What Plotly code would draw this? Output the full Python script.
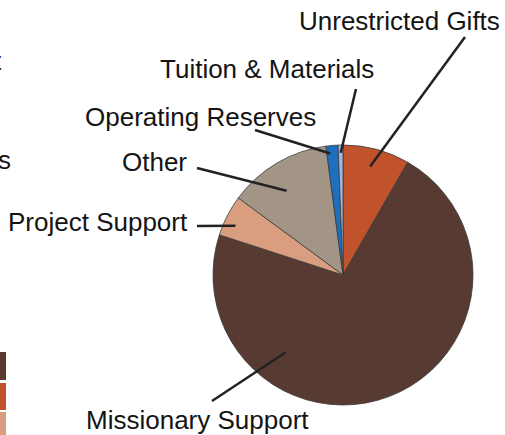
import math
import plotly.graph_objects as go

# ---- data ----
categories = ["Unrestricted Gifts", "Missionary Support", "Project Support",
              "Other", "Operating Reserves", "Tuition & Materials"]
values = [8.3, 71.7, 5.1, 12.8, 1.5, 0.6]
colors = ["#C0532B", "#573B33", "#D99E80", "#A39585", "#1F6FBF", "#A3B6DE"]

# ---- layout constants (pixels) ----
W, H = 505, 435
CX, CY, R = 343, 275, 130

def px(x):
    return x / W

def py(y):
    return 1 - y / H

# label: text centre, leader outer end, (position within slice, radius fraction)
label_pos = {
    "Unrestricted Gifts": ((399, 21), (465, 37), (0.47, 0.86)),
    "Missionary Support": ((197, 420), (212, 401), (0.723, 0.74)),
    "Project Support": ((98, 222), (197, 226), (0.36, 0.91)),
    "Other": ((154, 162), (197, 168), (0.43, 0.78)),
    "Operating Reserves": ((200, 117), (255, 130), (0.29, 0.94)),
    "Tuition & Materials": ((267, 69), (356, 89), (0.5, 0.94)),
}

fig = go.Figure()
fig.add_trace(go.Pie(
    labels=categories, values=values, sort=False, direction="clockwise",
    rotation=0, textinfo="none", hoverinfo="skip", showlegend=False,
    marker=dict(colors=colors, line=dict(color="#3a3a3a", width=0.8)),
    domain=dict(x=[px(CX - R), px(CX + R)], y=[py(CY + R), py(CY - R)]),
))

total = sum(values)
start = 0.0
shapes = []
annotations = []
font = dict(family="Arial, Liberation Sans, sans-serif", size=26, color="#141414")
for cat, v in zip(categories, values):
    span = 360.0 * v / total
    (tx, ty), (ox, oy), (t, rf) = label_pos[cat]
    ang = math.radians(start + t * span)
    ix = CX + rf * R * math.sin(ang)
    iy = CY - rf * R * math.cos(ang)
    shapes.append(dict(type="line", xref="paper", yref="paper",
                       x0=px(ox), y0=py(oy), x1=px(ix), y1=py(iy),
                       line=dict(color="#222222", width=2.5)))
    annotations.append(dict(text=cat, x=px(tx), y=py(ty), xref="paper", yref="paper",
                            xanchor="center", yanchor="middle", showarrow=False, font=font))
    start += span

# partially visible elements at the left edge
annotations.append(dict(text="t", x=px(4), y=py(61), xref="paper", yref="paper",
                        xanchor="right", yanchor="middle", showarrow=False, font=font))
annotations.append(dict(text="s", x=px(13), y=py(160), xref="paper", yref="paper",
                        xanchor="right", yanchor="middle", showarrow=False, font=font))

swatches = [(352, 380, colors[1]), (383, 410, colors[0]), (412, 435, colors[2])]
for y0, y1, c in swatches:
    shapes.append(dict(type="rect", xref="paper", yref="paper", x0=0, x1=px(6),
                       y0=py(y1), y1=py(y0), fillcolor=c, line=dict(width=0)))

fig.update_layout(width=W, height=H, margin=dict(l=0, r=0, t=0, b=0),
                  paper_bgcolor="white", plot_bgcolor="white",
                  shapes=shapes, annotations=annotations)
fig.write_html("out.html", config={"displayModeBar": False},
               post_script="document.body.style.margin='0';document.body.style.overflow='hidden';")
